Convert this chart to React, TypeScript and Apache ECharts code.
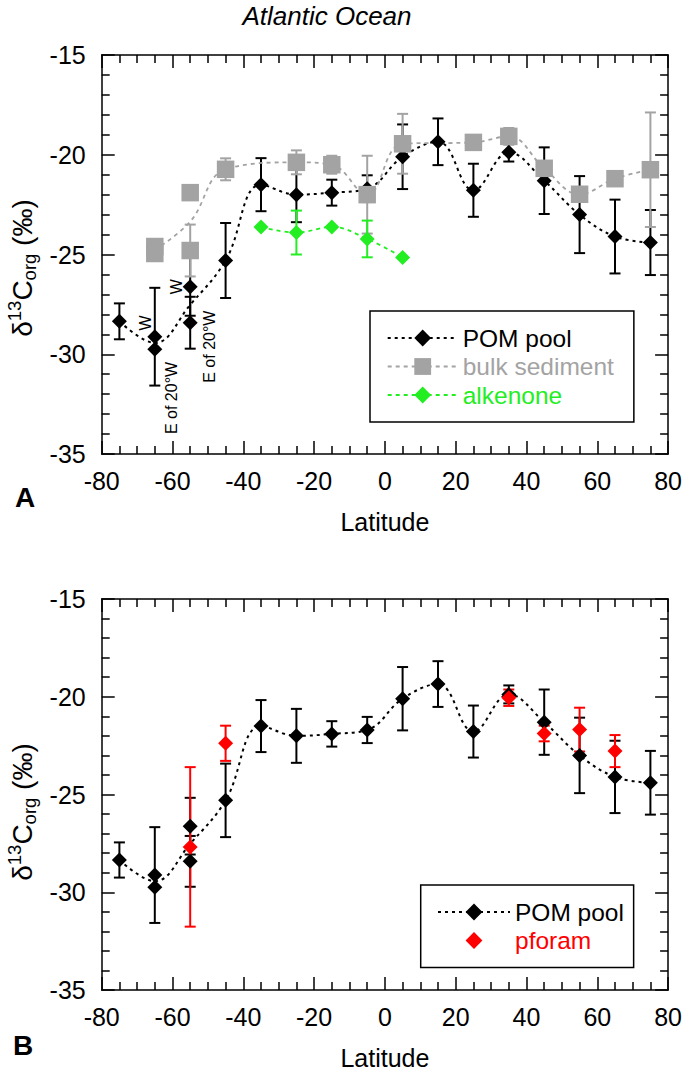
import React, { useEffect, useRef } from "react";
import * as echarts from "echarts";

// ---------- data ----------
const pomLat = [-75, -65, -65, -55, -55, -45, -35, -25, -15, -5, 5, 15, 25, 35, 45, 55, 65, 75];
const pomVal = [-28.35, -29.12, -29.75, -26.62, -28.42, -25.3, -21.5, -22.0, -21.9, -21.7, -20.1, -19.35, -21.78, -19.88, -21.3, -23.0, -24.1, -24.4];
const pomErr = [0.9, 2.45, 0, 1.45, 1.3, 1.88, 1.33, 1.38, 0.65, 0.67, 1.62, 1.17, 1.33, 0.46, 1.67, 1.93, 1.85, 1.63];

const bulkLat = [-65, -65, -55, -55, -45, -25, -15, -5, 5, 25, 35, 45, 55, 65, 75];
const bulkVal = [-24.6, -24.95, -21.9, -24.8, -20.73, -20.38, -20.5, -22.0, -19.45, -19.38, -19.08, -20.68, -21.98, -21.2, -20.75];
const bulkErr = [0, 0, 0, 1.3, 0.55, 0.6, 0.45, 1.95, 1.5, 0, 0.42, 0.3, 0, 0, 2.87];

const alkLat = [-35, -25, -15, -5, 5];
const alkVal = [-23.62, -23.9, -23.62, -24.22, -25.15];
const alkErr = [0, 1.1, 0, 0.92, 0];

const pfLat = [-55, -45, 35, 45, 55, 65];
const pfVal = [-27.68, -22.38, -20.05, -21.88, -21.68, -22.78];
const pfErr = [4.08, 0.9, 0.42, 0.4, 1.12, 0.82];

const xTicks = { min: -80, max: 80, interval: 20 };
const yTicks = { min: -35, max: -15, interval: 5 };

const noteLat = [-67.6, -60.4, -59.0, -49.6];
const noteVal = [-28.43, -32.19, -26.61, -29.62];
const noteText = ["W", "E of 20°W", "W", "E of 20°W"];

// ---------- style ----------
const FONT = "'Liberation Sans', Arial, Helvetica, sans-serif";
const BLACK = "#000000";
const GREY = "#a3a3a3";
const GREEN = "#22ee22";
const RED = "#ff0000";

function meanByLat(lat: number[], val: number[]) {
  const order: number[] = [];
  const acc: Record<string, number[]> = {};
  lat.forEach((l, i) => {
    const k = String(l);
    if (!acc[k]) {
      acc[k] = [];
      order.push(l);
    }
    acc[k].push(val[i]);
  });
  return order.map((l) => {
    const a = acc[String(l)];
    return [l, a.reduce((s, v) => s + v, 0) / a.length];
  });
}

function errRows(lat: number[], val: number[], err: number[]) {
  const rows: number[][] = [];
  lat.forEach((l, i) => {
    if (err[i] > 0) rows.push([l, val[i] - err[i], val[i] + err[i]]);
  });
  return rows;
}

function errSeries(rows: number[][], color: string, g: number) {
  return {
    type: "custom",
    xAxisIndex: g * 2,
    yAxisIndex: g * 2,
    silent: true,
    encode: { x: 0, y: [1, 2] },
    data: rows,
    renderItem: (params: any, api: any) => {
      const x = api.value(0);
      const lo = api.value(1);
      const hi = api.value(2);
      const t = api.coord([x, hi]);
      const b = api.coord([x, lo]);
      const w = 5.5;
      const style = { stroke: color, lineWidth: 2 };
      return {
        type: "group",
        children: [
          { type: "line", shape: { x1: t[0], y1: t[1], x2: b[0], y2: b[1] }, style },
          { type: "line", shape: { x1: t[0] - w, y1: t[1], x2: t[0] + w, y2: t[1] }, style },
          { type: "line", shape: { x1: b[0] - w, y1: b[1], x2: b[0] + w, y2: b[1] }, style },
        ],
      };
    },
  };
}

const axisLineStyle = { color: BLACK, width: 1.5 };

function xAxis(gridIndex: number, position: string, labels: boolean) {
  return {
    type: "value",
    gridIndex,
    position,
    min: xTicks.min,
    max: xTicks.max,
    interval: xTicks.interval,
    axisLine: { show: true, onZero: false, lineStyle: axisLineStyle },
    axisTick: { show: true, inside: true, length: 13, lineStyle: axisLineStyle },
    minorTick: { show: true, splitNumber: 4, length: 8, lineStyle: axisLineStyle },
    splitLine: { show: false },
    axisLabel: { show: labels, margin: 14, fontSize: 25, color: BLACK, fontFamily: FONT },
    name: labels ? "Latitude" : "",
    nameLocation: "middle",
    nameGap: 55,
    nameTextStyle: { fontSize: 25, color: BLACK, fontFamily: FONT },
  };
}

function yAxis(gridIndex: number, position: string, labels: boolean) {
  return {
    type: "value",
    gridIndex,
    position,
    min: yTicks.min,
    max: yTicks.max,
    interval: yTicks.interval,
    axisLine: { show: true, onZero: false, lineStyle: axisLineStyle },
    axisTick: { show: true, inside: true, length: 13, lineStyle: axisLineStyle },
    minorTick: { show: true, splitNumber: 5, length: 8, lineStyle: axisLineStyle },
    splitLine: { show: false },
    axisLabel: { show: labels, margin: 16, fontSize: 25, color: BLACK, fontFamily: FONT },
  };
}

function pomSeries(g: number) {
  return [
    errSeries(errRows(pomLat, pomVal, pomErr), BLACK, g),
    {
      name: "POM pool",
      type: "line",
      xAxisIndex: g * 2,
      yAxisIndex: g * 2,
      data: meanByLat(pomLat, pomVal),
      smooth: 0.4,
      symbol: "diamond",
      showSymbol: false,
      itemStyle: { color: BLACK, opacity: 1 },
      lineStyle: { color: BLACK, width: 2, type: [3, 4] },
      z: 2,
    },
    {
      name: "POM pool points",
      type: "scatter",
      xAxisIndex: g * 2,
      yAxisIndex: g * 2,
      data: pomLat.map((l, i) => [l, pomVal[i]]),
      symbol: "diamond",
      symbolSize: 15,
      itemStyle: { color: BLACK, opacity: 1 },
      z: 3,
    },
  ];
}

const yTitle = {
  type: "text",
  x: 22,
  y: 0,
  rotation: Math.PI / 2,
  style: {
    text: "{m|δ}{sup|13}{m|C}{sub|org}{m| (‰)}",
    rich: {
      m: { fontSize: 28, fontFamily: FONT, fill: BLACK, color: BLACK, lineHeight: 34 },
      sup: { fontSize: 18.5, fontFamily: FONT, fill: BLACK, color: BLACK, lineHeight: 34, verticalAlign: "top" },
      sub: { fontSize: 18.5, fontFamily: FONT, fill: BLACK, color: BLACK, lineHeight: 34, verticalAlign: "bottom" },
    },
    align: "center",
    verticalAlign: "middle",
    textAlign: "center",
    textVerticalAlign: "middle",
  },
};

function textEl(text: string, x: number, y: number, size: number, extra: any = {}) {
  return {
    type: "text",
    x,
    y,
    style: {
      text,
      fontSize: size,
      fontFamily: FONT,
      fill: BLACK,
      align: "center",
      verticalAlign: "middle",
      textAlign: "center",
      textVerticalAlign: "middle",
      ...extra,
    },
  };
}

export default function App() {
  const ref = useRef<HTMLDivElement>(null);
  useEffect(() => {
    document.body.style.margin = "0";
    const chart = echarts.init(ref.current!, null, { renderer: "svg" });
    const option: any = {
      animation: false,
      backgroundColor: "#ffffff",
      grid: [
        { left: 101.7, top: 55, width: 570.6, height: 399 },
        { left: 101.7, top: 599, width: 570.6, height: 398.3 },
      ],
      xAxis: [xAxis(0, "bottom", true), xAxis(0, "top", false), xAxis(1, "bottom", true), xAxis(1, "top", false)],
      yAxis: [yAxis(0, "left", true), yAxis(0, "right", false), yAxis(1, "left", true), yAxis(1, "right", false)],
      legend: [
        {
          left: 370,
          top: 311,
          orient: "vertical",
          selectedMode: false,
          itemWidth: 70,
          itemHeight: 21,
          itemGap: 3.5,
          padding: [14.5, 20, 14.5, 16.7],
          borderColor: BLACK,
          borderWidth: 1.5,
          borderRadius: 0,
          textStyle: { fontSize: 24.5, fontFamily: FONT, color: BLACK },
          data: [
            { name: "POM pool", textStyle: { color: BLACK } },
            { name: "bulk sediment", textStyle: { color: GREY } },
            { name: "alkenone", textStyle: { color: GREEN } },
          ],
        },
        {
          left: 420.7,
          top: 885,
          orient: "vertical",
          selectedMode: false,
          itemWidth: 72,
          itemHeight: 21,
          itemGap: 3.5,
          padding: [14.5, 9.7, 14.5, 16.3],
          borderColor: BLACK,
          borderWidth: 1.5,
          borderRadius: 0,
          textStyle: { fontSize: 24.5, fontFamily: FONT, color: BLACK },
          data: [
            { name: "POM pool", textStyle: { color: BLACK } },
            { name: "pforam", textStyle: { color: RED } },
          ],
        },
      ],
      graphic: [
        textEl("Atlantic Ocean", 327, 16, 26, { fontStyle: "italic" }),
        textEl("A", 25, 497, 28, { fontWeight: "bold" }),
        textEl("B", 23, 1045, 28, { fontWeight: "bold" }),
        { ...yTitle, y: 268 },
        { ...yTitle, y: 812 },
      ],
      series: [
        // top panel
        ...pomSeries(0),
        errSeries(errRows(bulkLat, bulkVal, bulkErr), GREY, 0),
        {
          name: "bulk sediment",
          type: "line",
          xAxisIndex: 0,
          yAxisIndex: 0,
          data: meanByLat(bulkLat, bulkVal),
          smooth: 0.4,
          symbol: "rect",
          showSymbol: false,
          itemStyle: { color: GREY, opacity: 1 },
          lineStyle: { color: GREY, width: 1.8, type: [4, 4] },
          z: 2,
        },
        {
          name: "bulk sediment points",
          type: "scatter",
          xAxisIndex: 0,
          yAxisIndex: 0,
          data: bulkLat.map((l, i) => [l, bulkVal[i]]),
          symbol: "rect",
          symbolSize: 17.5,
          itemStyle: { color: GREY, opacity: 1 },
          z: 3,
        },
        errSeries(errRows(alkLat, alkVal, alkErr), GREEN, 0),
        {
          name: "alkenone",
          type: "line",
          xAxisIndex: 0,
          yAxisIndex: 0,
          data: alkLat.map((l, i) => [l, alkVal[i]]),
          smooth: 0.4,
          symbol: "diamond",
          symbolSize: 15,
          itemStyle: { color: GREEN, opacity: 1 },
          lineStyle: { color: GREEN, width: 1.8, type: [4, 4] },
          z: 3,
        },
        {
          name: "notes",
          type: "scatter",
          xAxisIndex: 0,
          yAxisIndex: 0,
          silent: true,
          symbolSize: 1,
          itemStyle: { color: "rgba(0,0,0,0)", opacity: 1 },
          data: noteLat.map((l, i) => ({
            value: [l, noteVal[i]],
            label: {
              show: true,
              formatter: noteText[i],
              position: "inside",
              rotate: 90,
              fontSize: 16,
              fontFamily: FONT,
              color: BLACK,
              opacity: 1,
            },
          })),
          z: 4,
        },
        // bottom panel
        ...pomSeries(1),
        errSeries(errRows(pfLat, pfVal, pfErr), RED, 1),
        {
          name: "pforam",
          type: "line",
          xAxisIndex: 2,
          yAxisIndex: 2,
          data: pfLat.map((l, i) => [l, pfVal[i]]),
          symbol: "diamond",
          symbolSize: 15,
          itemStyle: { color: RED, opacity: 1 },
          lineStyle: { color: "rgba(0,0,0,0)", width: 0 },
          z: 4,
        },
      ],
    };
    chart.setOption(option);
    return () => chart.dispose();
  }, []);
  return (
    <div
      ref={ref}
      style={{ position: "absolute", left: 0, top: 0, width: 685, height: 1071, background: "#fff" }}
    />
  );
}
